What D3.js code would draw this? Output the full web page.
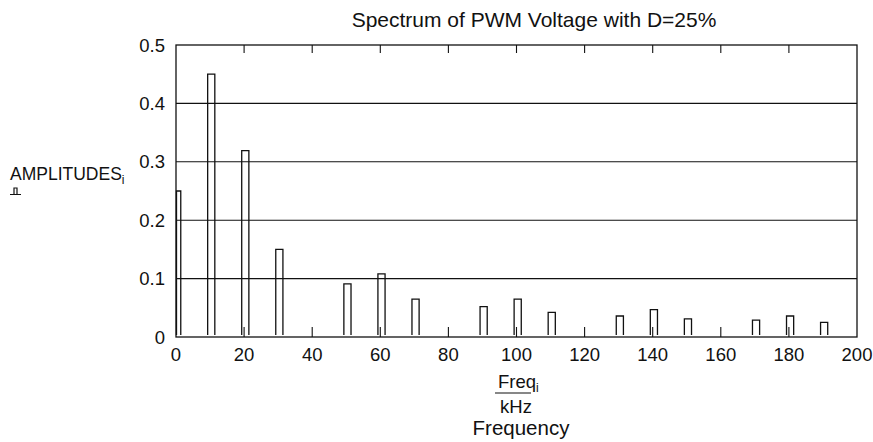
<!DOCTYPE html>
<html>
<head>
<meta charset="utf-8">
<script src="https://cdn.jsdelivr.net/npm/d3@7"></script>
<style>
  html, body { margin: 0; padding: 0; background: #fff; }
  svg { display: block; }
  text { font-family: "Liberation Sans", Arial, Helvetica, sans-serif; fill: #111; }
</style>
</head>
<body>
<svg id="chart" width="873" height="442"></svg>
<script>
// ---- data ----
const freqs = [0, 10, 20, 30, 40, 50, 60, 70, 80, 90, 100, 110, 120, 130, 140, 150, 160, 170, 180, 190];
const amplitudes = [0.25, 0.45, 0.319, 0.15, 0, 0.091, 0.108, 0.065, 0, 0.052, 0.065, 0.042, 0, 0.036, 0.047, 0.031, 0, 0.029, 0.036, 0.025];
const xTicks = [0, 20, 40, 60, 80, 100, 120, 140, 160, 180, 200];
const yTicks = [0, 0.1, 0.2, 0.3, 0.4, 0.5];
const titleText = "Spectrum of PWM Voltage with D=25%";

// ---- layout ----
const svg = d3.select("#chart");
const L = 176, R = 857, T = 45, B = 337;
const x = d3.scaleLinear().domain([0, 200]).range([L, R]);
const y = d3.scaleLinear().domain([0, 0.5]).range([B, T]);

// title
svg.append("text").attr("x", 534).attr("y", 27).attr("text-anchor", "middle")
  .style("font-size", "21px").text(titleText);

// gridlines (interior)
svg.append("g").selectAll("line").data(yTicks.filter(v => v > 0 && v < 0.5)).join("line")
  .attr("x1", L).attr("x2", R).attr("y1", d => y(d)).attr("y2", d => y(d))
  .attr("stroke", "#111").attr("stroke-width", 1.1);

// x ticks top & bottom (inward)
const innerX = xTicks.filter(v => v > 0 && v < 200);
svg.append("g").selectAll("line").data(innerX).join("line")
  .attr("x1", d => x(d)).attr("x2", d => x(d)).attr("y1", T).attr("y2", T + 8)
  .attr("stroke", "#111").attr("stroke-width", 1.1);
svg.append("g").selectAll("line").data(innerX).join("line")
  .attr("x1", d => x(d)).attr("x2", d => x(d)).attr("y1", B).attr("y2", B - 10)
  .attr("stroke", "#111").attr("stroke-width", 1.1);

// bars (open-bottom outlines)
const bars = freqs.map((f, i) => ({ f, a: amplitudes[i] })).filter(d => d.a > 0);
svg.append("g").selectAll("path").data(bars).join("path")
  .attr("d", d => {
    const x0 = Math.max(x(d.f - 0.7), x(0) + 0.5);
    const x1 = x(d.f + 1.4);
    const yb = B - 2, yt = y(d.a);
    return `M${x0},${yb}V${yt}H${x1}V${yb}`;
  })
  .attr("fill", "none").attr("stroke", "#111").attr("stroke-width", 1.3);

// frame
svg.append("rect").attr("x", L).attr("y", T).attr("width", R - L).attr("height", B - T)
  .attr("fill", "none").attr("stroke", "#111").attr("stroke-width", 1.3);

// y tick labels
svg.append("g").selectAll("text").data(yTicks).join("text")
  .attr("x", 165).attr("y", d => y(d) + 6.5).attr("text-anchor", "end")
  .style("font-size", "18.5px").text(d => d === 0 ? "0" : d3.format(".1f")(d));

// x tick labels
svg.append("g").selectAll("text").data(xTicks).join("text")
  .attr("x", d => x(d)).attr("y", 361).attr("text-anchor", "middle")
  .style("font-size", "18.5px").text(d => d);

// y axis label
const yl = svg.append("text").attr("x", 10).attr("y", 180).style("font-size", "17.5px");
yl.append("tspan").text("AMPLITUDES");
yl.append("tspan").attr("dy", 4).style("font-size", "12px").text("i");
// placeholder mark under the label
svg.append("path").attr("d", "M10,194.5H21M14,194.5V188H17V194.5")
  .attr("fill", "none").attr("stroke", "#111").attr("stroke-width", 1.2);

// x axis label
const xl = svg.append("text").attr("x", 498).attr("y", 388).style("font-size", "18.5px");
xl.append("tspan").text("Freq");
xl.append("tspan").attr("dy", 4).style("font-size", "12px").text("i");
svg.append("line").attr("x1", 495).attr("x2", 531).attr("y1", 393).attr("y2", 393)
  .attr("stroke", "#111").attr("stroke-width", 1.2);
svg.append("text").attr("x", 516).attr("y", 413).attr("text-anchor", "middle")
  .style("font-size", "18.5px").text("kHz");
svg.append("text").attr("x", 521).attr("y", 435).attr("text-anchor", "middle")
  .style("font-size", "20.5px").text("Frequency");
</script>
</body>
</html>
